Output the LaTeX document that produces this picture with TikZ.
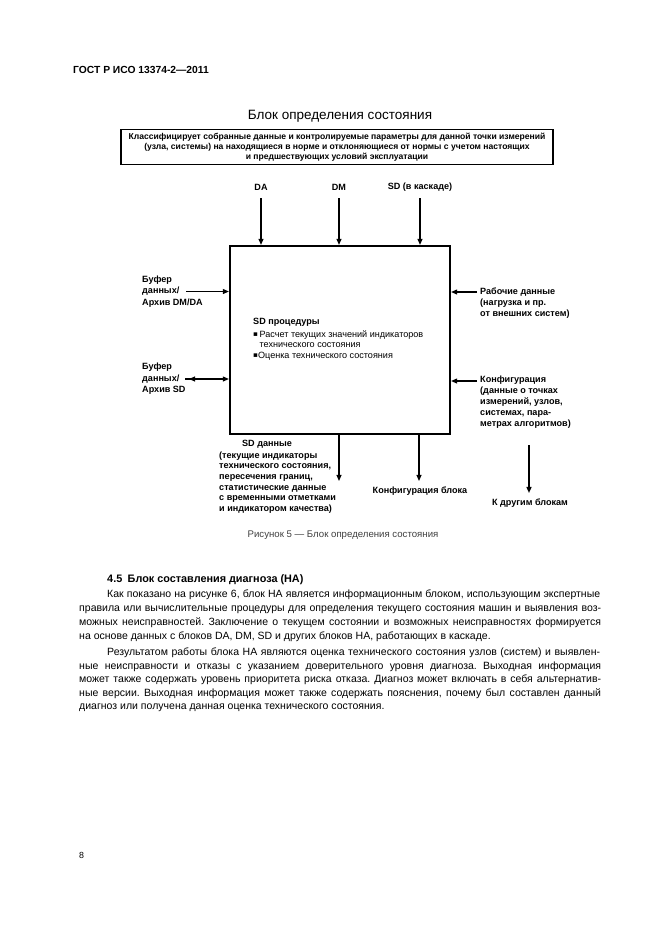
\documentclass[tikz,border=0pt]{standalone}
\usepackage{fontspec}
\setmainfont{Liberation Sans}
\newfontfamily\symfont{DejaVu Sans}
\usetikzlibrary{arrows.meta}
\frenchspacing
\newlength\bodyw \setlength\bodyw{165.7mm}
\newlength\bodyi \setlength\bodyi{156.5mm}
\newcommand\fullline[1]{\makebox[\bodyw][s]{#1}}
\newcommand\indline[1]{\makebox[\bodyi][s]{#1}}
\newcommand\sqb{{\symfont\fontsize{6.5}{7}\selectfont\raisebox{0.3pt}{\char"25AA}}}
\begin{document}
\begin{tikzpicture}[x=0.3175mm, y=-0.3175mm,
  lbl/.style={font=\fontsize{8.2}{9.9}\selectfont\bfseries, inner sep=0pt},
  txt/.style={font=\fontsize{8.2}{9.4}\selectfont, inner sep=0pt},
  arr/.style={line width=1.1pt, -{Triangle[length=5.5pt,width=4.5pt]}},
  frame/.style={draw, line width=1.7pt, inner sep=0pt},
  body/.style={font=\fontsize{9.5}{12}\selectfont\frenchspacing, inner sep=0pt, anchor=base west},
]
\useasboundingbox[fill=white] (0,0) rectangle (661,936);

\node[font=\fontsize{9.3}{11}\selectfont\bfseries, inner sep=0pt, anchor=west] (hdr) at (73,70) {ГОСТ Р ИСО 13374-2—2011};
\node[font=\fontsize{12.2}{14}\selectfont, inner sep=0pt] (title) at (340,116) {Блок определения состояния};

\node[frame, align=center, minimum width=432*0.3175mm, minimum height=35*0.3175mm,
      font=\fontsize{7.75}{9.3}\selectfont\bfseries] (cls) at (337,147)
  {Классифицирует собранные данные и контролируемые параметры для данной точки измерений\\
   (узла, системы) на находящиеся в норме и отклоняющиеся от нормы с учетом настоящих\\
   и предшествующих условий эксплуатации};

\node[lbl] (da) at (261,187) {DA};
\node[lbl] (dm) at (339,187) {DM};
\node[lbl] (sdc) at (420,187) {SD (в каскаде)};

\node[frame, line width=2pt, minimum width=220*0.3175mm, minimum height=188*0.3175mm] (main) at (340,340) {};

\coordinate (daS) at (261,198);
\coordinate (dmS) at (339,198);
\coordinate (sdS) at (420,198);
\draw[arr] (daS) -- (daS |- main.north);
\draw[arr] (dmS) -- (dmS |- main.north);
\draw[arr] (sdS) -- (sdS |- main.north);

% left inputs
\node[lbl, align=left, anchor=west, font=\fontsize{8.2}{10.3}\selectfont\bfseries] (buf1) at (142,291.5) {Буфер\\данных/\\Архив DM/DA};
\coordinate (b1) at (186,291.5);
\draw[arr] (b1) -- (b1 -| main.west);
\node[lbl, align=left, anchor=west, font=\fontsize{8.2}{10.3}\selectfont\bfseries] (buf2) at (142,379) {Буфер\\данных/\\Архив SD};
\coordinate (b2) at (185,379);
\coordinate (b2h) at (197,379);
\coordinate (b2t) at (189,379);
\draw[arr] (b2) -- (b2 -| main.west);
\draw[arr] (b2h) -- (b2t);

% right inputs
\coordinate (r1) at (477,292);
\draw[arr] (r1) -- (r1 -| main.east);
\node[lbl, align=left, anchor=west] (work) at (480,303) {Рабочие данные\\(нагрузка и пр.\\от внешних систем)};
\coordinate (r2) at (477,381);
\draw[arr] (r2) -- (r2 -| main.east);
\node[lbl, align=left, anchor=west] (conf) at (480,402) {Конфигурация\\(данные о точках\\измерений, узлов,\\системах, пара-\\метрах алгоритмов)};

% inside
\node[lbl, anchor=west] (sdp) at (253,322) {SD процедуры};
\node[txt, anchor=west, align=left] (bul1) at (253,339) {\sqb\,Расчет текущих значений индикаторов\\\phantom{\sqb\,}технического состояния};
\node[txt, anchor=west] (bul2) at (253,356) {\sqb Оценка технического состояния};

% outputs
\coordinate (o1) at (339,481);
\coordinate (o2) at (419,481);
\draw[arr] (o1 |- main.south) -- (o1);
\draw[arr] (o2 |- main.south) -- (o2);
\coordinate (o3a) at (529,445);
\coordinate (o3b) at (529,493);
\draw[arr, line width=1.6pt] (o3a) -- (o3b);

\node[lbl] (sdd) at (267,444) {SD данные};
\node[lbl, align=left, anchor=west, font=\fontsize{8.2}{9.7}\selectfont\bfseries] (sddt) at (219,482.5) {(текущие индикаторы\\технического состояния,\\пересечения границ,\\статистические данные\\с временными отметками\\и индикатором качества)};
\node[lbl] (cfgb) at (420,491) {Конфигурация блока};
\node[lbl] (oth) at (530,503) {К другим блокам};

\node[font=\fontsize{8.7}{10}\selectfont, text=black!75, inner sep=0pt] (cap) at (343,535) {Рисунок 5 — Блок определения состояния};

\node[font=\fontsize{9.8}{12}\selectfont\bfseries, inner sep=0pt, anchor=west] (sec) at (107,580) {4.5\enspace Блок составления диагноза (НА)};

\node[body] (p1a) at (107,597.5) {\indline{Как показано на рисунке 6, блок НА является информационным блоком, использующим экспертные}};
\node[body] (p1b) at (79,611) {\fullline{правила или вычислительные процедуры для определения текущего состояния машин и выявления воз-}};
\node[body] (p1c) at (79,625) {\fullline{можных неисправностей. Заключение о текущем состоянии и возможных неисправностях формируется}};
\node[body] (p1d) at (79,639) {на основе данных с блоков DA, DM, SD и других блоков НА, работающих в каскаде.};

\node[body] (p2a) at (107,655.5) {\indline{Результатом работы блока НА являются оценка технического состояния узлов (систем) и выявлен-}};
\node[body] (p2b) at (79,669) {\fullline{ные неисправности и отказы с указанием доверительного уровня диагноза. Выходная информация}};
\node[body] (p2c) at (79,682.5) {\fullline{может также содержать уровень приоритета риска отказа. Диагноз может включать в себя альтернатив-}};
\node[body] (p2d) at (79,696) {\fullline{ные версии. Выходная информация может также содержать пояснения, почему был составлен данный}};
\node[body] (p2e) at (79,709.5) {диагноз или получена данная оценка технического состояния.};

\node[font=\fontsize{8}{10}\selectfont, inner sep=0pt, anchor=west] (pg) at (79,855) {8};
\end{tikzpicture}
\end{document}
